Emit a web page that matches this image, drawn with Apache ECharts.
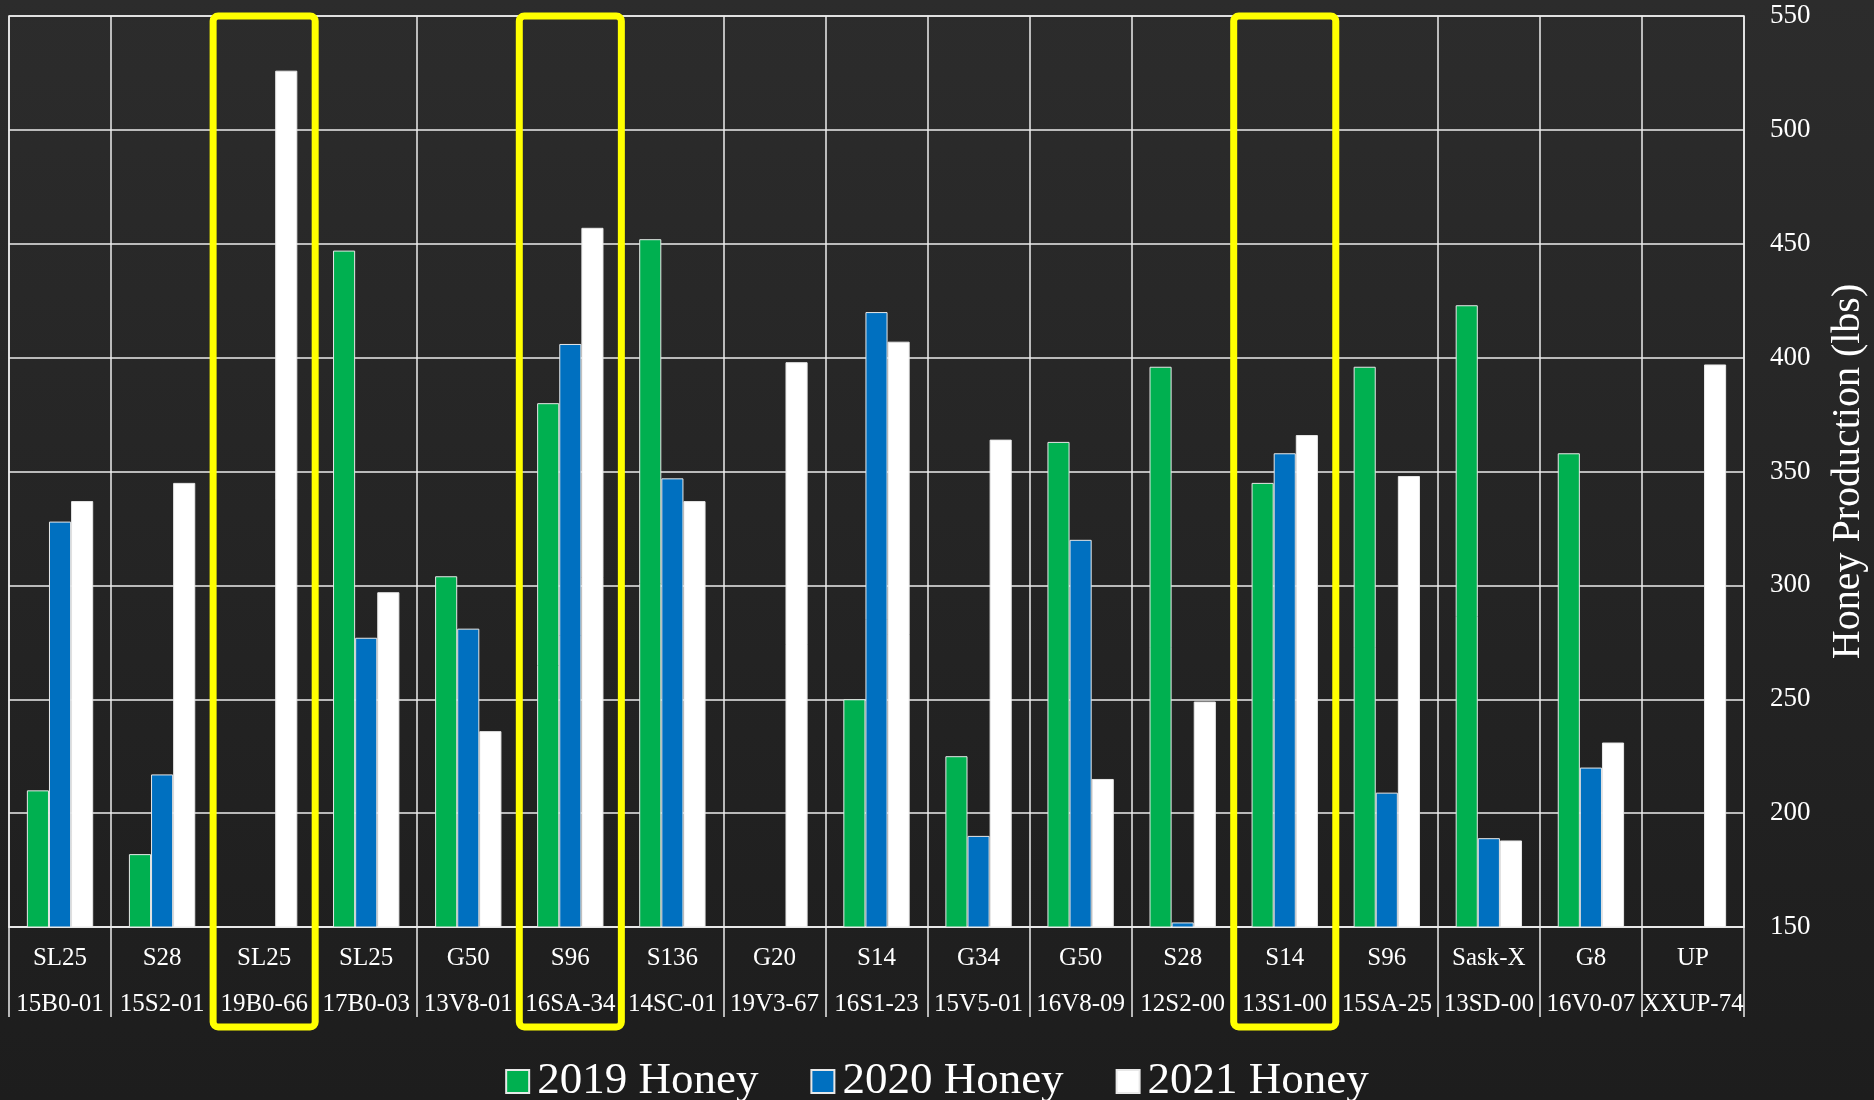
<!DOCTYPE html>
<html>
<head>
<meta charset="utf-8">
<script src="https://cdn.jsdelivr.net/npm/echarts@6/dist/echarts.min.js"></script>
<style>
  html, body { margin: 0; padding: 0; background: #242424; }
  #chart { width: 1874px; height: 1100px; }
</style>
</head>
<body>
<div id="chart"></div>
<script>
// Variety names (first label row) and colony IDs (second label row)
const varieties = ['SL25', 'S28', 'SL25', 'SL25', 'G50', 'S96', 'S136', 'G20', 'S14', 'G34', 'G50', 'S28', 'S14', 'S96', 'Sask-X', 'G8', 'UP'];
const colonyIds = ['15B0-01', '15S2-01', '19B0-66', '17B0-03', '13V8-01', '16SA-34', '14SC-01', '19V3-67', '16S1-23', '15V5-01', '16V8-09', '12S2-00', '13S1-00', '15SA-25', '13SD-00', '16V0-07', 'XXUP-74'];

// Honey production per year, lbs
const honey2019 = [210, 182, null, 447, 304, 380, 452, null, 250, 225, 363, 396, 345, 396, 423, 358, null];
const honey2020 = [328, 217, null, 277, 281, 406, 347, null, 420, 190, 320, 152, 358, 209, 189, 220, null];
const honey2021 = [337, 345, 526, 297, 236, 457, 337, 398, 407, 364, 215, 249, 366, 348, 188, 231, 397];

// Colonies outlined in yellow
const highlighted = ['19B0-66', '16SA-34', '13S1-00'];

// Value axis ticks
const yTicks = [150, 200, 250, 300, 350, 400, 450, 500, 550];

const FONT = 'Liberation Serif';
const yMin = yTicks[0];
const yMax = yTicks[yTicks.length - 1];

const chart = echarts.init(document.getElementById('chart'), null, { renderer: 'canvas' });

const barBorder = { borderColor: '#e8e8e8', borderWidth: 1 };

chart.setOption({
  backgroundColor: new echarts.graphic.LinearGradient(0, 0, 0, 1, [
    { offset: 0, color: '#2c2c2c' },
    { offset: 1, color: '#1d1d1d' }
  ]),
  animation: false,
  textStyle: { fontFamily: FONT },
  grid: {
    left: 9, right: 130, top: 16, bottom: 173,
    outerBoundsMode: 'none',
    show: true, borderColor: '#ececec', borderWidth: 1.5
  },
  legend: {
    data: ['2019 Honey', '2020 Honey', '2021 Honey'],
    left: 'center',
    top: 1054,
    icon: 'rect',
    itemWidth: 23,
    itemHeight: 23,
    itemGap: 52,
    textStyle: { color: '#ffffff', fontSize: 45, fontFamily: FONT, padding: [0, 0, 0, 3] }
  },
  xAxis: {
    type: 'category',
    data: colonyIds,
    axisLine: { show: true, lineStyle: { color: '#ececec', width: 1.5 } },
    axisTick: { show: true, length: 90, lineStyle: { color: '#ececec', width: 1.5 } },
    splitLine: { show: true, interval: 0, lineStyle: { color: '#ececec', width: 1.5 } },
    axisLabel: {
      interval: 0,
      margin: 8,
      formatter: (value, i) => '{v|' + varieties[i] + '}\n{id|' + value + '}',
      rich: {
        v: { color: '#ffffff', fontSize: 25, fontFamily: FONT, lineHeight: 46 },
        id: { color: '#ffffff', fontSize: 25, fontFamily: FONT, lineHeight: 46 }
      }
    }
  },
  yAxis: {
    type: 'value',
    position: 'right',
    min: yMin,
    max: yMax,
    interval: 50,
    name: 'Honey Production (lbs)',
    nameLocation: 'middle',
    nameRotate: 90,
    nameGap: 84,
    nameTextStyle: { color: '#ffffff', fontSize: 40, fontFamily: FONT },
    axisLine: { show: false },
    axisTick: { show: false },
    axisLabel: { color: '#ffffff', fontSize: 27, fontFamily: FONT, margin: 26 },
    splitLine: { show: true, lineStyle: { color: '#ececec', width: 1.5 } }
  },
  series: [
    {
      name: '2019 Honey', type: 'bar', data: honey2019,
      barGap: '0%', barCategoryGap: '35%',
      itemStyle: Object.assign({ color: '#00b050' }, barBorder)
    },
    {
      name: '2020 Honey', type: 'bar', data: honey2020,
      barGap: '0%', barCategoryGap: '35%',
      itemStyle: Object.assign({ color: '#0070c0' }, barBorder)
    },
    {
      name: '2021 Honey', type: 'bar', data: honey2021,
      barGap: '0%', barCategoryGap: '35%',
      itemStyle: Object.assign({ color: '#ffffff' }, barBorder)
    },
    {
      name: 'highlight',
      type: 'custom',
      clip: false,
      silent: true,
      z: 10,
      encode: { x: 0 },
      data: highlighted.map(id => [colonyIds.indexOf(id)]),
      renderItem: (params, api) => {
        const idx = api.value(0);
        const top = api.coord([idx, yMax]);
        const base = api.coord([idx, yMin]);
        const band = api.size([1, 0])[0];
        return {
          type: 'rect',
          shape: { x: top[0] - band / 2, y: top[1], width: band, height: base[1] - top[1] + 100, r: 5 },
          style: { fill: 'none', stroke: '#ffff00', lineWidth: 7 }
        };
      }
    }
  ]
});
</script>
</body>
</html>
